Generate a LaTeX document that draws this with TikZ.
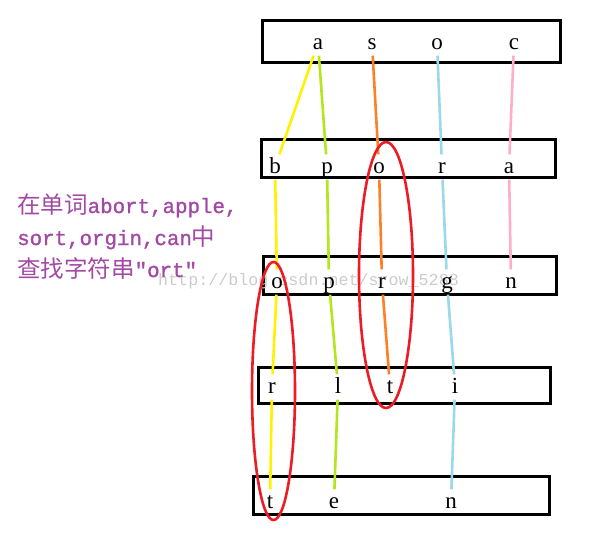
\documentclass[tikz,border=0pt]{standalone}
\usepackage{fontspec}
\setmainfont{Liberation Serif}
\newfontfamily\cjkf{Noto Sans CJK SC}
\newfontfamily\monof{Liberation Mono}[Ligatures=TeXOff]
\newfontfamily\monobf{Liberation Mono}[Ligatures=TeXOff, FakeBold=1.2]
\definecolor{ylw}{HTML}{FFF200}
\definecolor{ygr}{HTML}{B5E61D}
\definecolor{org}{HTML}{FF7F27}
\definecolor{lbl}{HTML}{99D9EA}
\definecolor{pnk}{HTML}{FFAEC9}
\definecolor{rd}{HTML}{ED1C24}
\definecolor{prp}{HTML}{A349A4}
\newcommand\zhtxt[1]{{\cjkf\fontsize{23.5}{25}\selectfont #1}}
\newcommand\entxt[1]{{\monobf\fontsize{20.8}{25}\selectfont #1}}
\begin{document}
\begin{tikzpicture}[x=1pt,y=-1pt,
  lt/.style={font=\fontsize{23}{23}\selectfont, text height=17pt, text depth=5pt, inner sep=1.5pt, anchor=base},
  boxline/.style={line width=3pt},
  lk/.style={line width=2.6pt},
  oval/.style={draw=rd, line width=2.6pt},
  lefttxt/.style={anchor=base west, inner sep=0pt, text=prp}]
\useasboundingbox (0,0) rectangle (594,536);
\fill[white] (0,0) rectangle (594,536);
% boxes
\draw[boxline] (262,20) rectangle (560,62);
\draw[boxline] (261,139) rectangle (555,177);
\draw[boxline] (263,256) rectangle (556,294);
\draw[boxline] (258,367) rectangle (550,403);
\draw[boxline] (253,476) rectangle (549,514);
% watermark
\node[anchor=base west, inner sep=0pt, text=black!20, font=\monof\fontsize{16.7}{17}\selectfont] (wm) at (158,285) {http://blog.csdn.net/srow\_5288};
% letters
\node[lt] (a1) at (318,49) {a};
\node[lt] (s1) at (372,49) {s};
\node[lt] (o1) at (437,49) {o};
\node[lt] (c1) at (514,49) {c};
\node[lt] (b2) at (275,173) {b};
\node[lt] (p2) at (327,173) {p};
\node[lt] (o2) at (379,173) {o};
\node[lt] (r2) at (442,173) {r};
\node[lt] (a2) at (509,173) {a};
\node[lt] (o3) at (277,288) {o};
\node[lt] (p3) at (329,288) {p};
\node[lt] (r3) at (382,288) {r};
\node[lt] (g3) at (447,288) {g};
\node[lt] (n3) at (511,288) {n};
\node[lt] (r4) at (272,393) {r};
\node[lt] (l4) at (338,393) {l};
\node[lt] (t4) at (390,393) {t};
\node[lt] (i4) at (455,393) {i};
\node[lt] (t5) at (270,508) {t};
\node[lt] (e5) at (334,508) {e};
\node[lt] (n5) at (451,508) {n};
% links
\draw[lk, ylw] (a1) -- (b2);
\draw[lk, ylw] (b2) -- (o3);
\draw[lk, ylw] (o3) -- (r4);
\draw[lk, ylw] (r4) -- (t5);
\draw[lk, ygr] (a1) -- (p2);
\draw[lk, ygr] (p2) -- (p3);
\draw[lk, ygr] (p3) -- (l4);
\draw[lk, ygr] (l4) -- (e5);
\draw[lk, org] (s1) -- (o2);
\draw[lk, org] (o2) -- (r3);
\draw[lk, org] (r3) -- (t4);
\draw[lk, lbl] (o1) -- (r2);
\draw[lk, lbl] (r2) -- (g3);
\draw[lk, lbl] (g3) -- (i4);
\draw[lk, lbl] (i4) -- (n5);
\draw[lk, pnk] (c1) -- (a2);
\draw[lk, pnk] (a2) -- (n3);
% ovals
\draw[oval] (273.5,391) ellipse [x radius=21.5pt, y radius=129pt];
\draw[oval] (386,275) ellipse [x radius=27pt, y radius=133pt];
% left text
\node[lefttxt] (t1) at (17,213) {\zhtxt{在单词}\entxt{abort,apple,}};
\node[lefttxt] (t2) at (17,245) {\entxt{sort,orgin,can}\zhtxt{中}};
\node[lefttxt] (t3) at (17,277) {\zhtxt{查找字符串}\entxt{"ort"}};
\end{tikzpicture}
\end{document}
